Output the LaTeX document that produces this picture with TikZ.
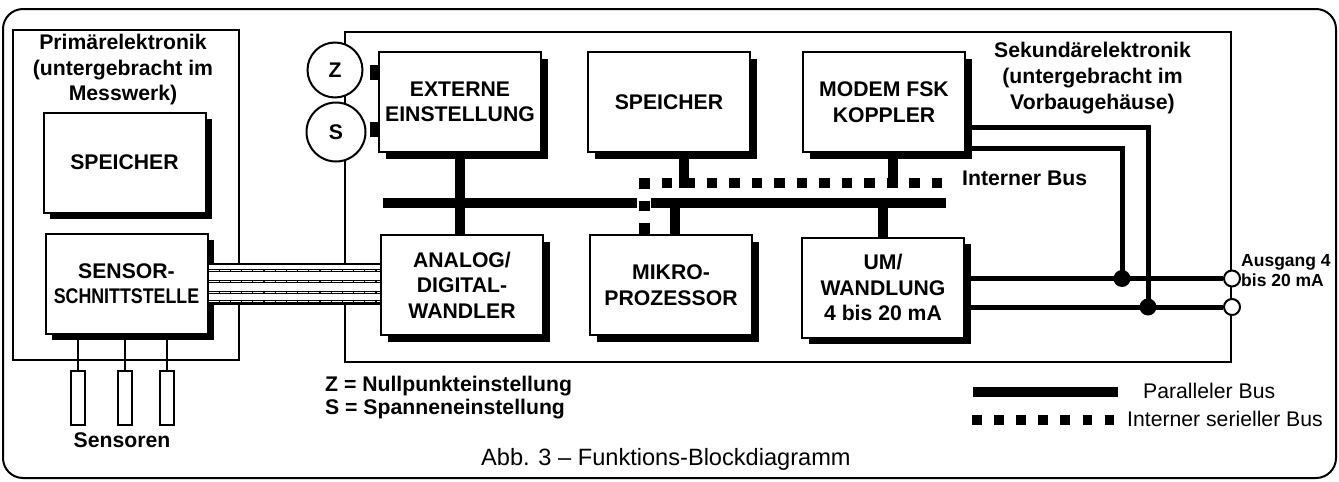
\documentclass[tikz,border=0pt]{standalone}
\usepackage{fontspec}
\setmainfont{Liberation Sans}
\usepackage{graphicx}
\usetikzlibrary{shadows}

\newcommand{\boldtext}{\bfseries\fontsize{21.2}{25.5}\selectfont}
\newcommand{\legendtext}{\fontsize{21.2}{25.5}\selectfont}

\begin{document}
\begin{tikzpicture}[x=1pt,y=-1pt,
	 block/.style={draw,line width=2pt,fill=white,minimum width=162pt,minimum height=100pt,
	   inner sep=0pt,align=center,font=\boldtext,
	   general shadow={fill=black,shadow xshift=6.5pt,shadow yshift=-6.5pt}},
	 knob/.style={circle,draw,line width=2pt,fill=white,inner sep=0pt,font=\boldtext},
	 sensorbox/.style={draw,line width=2pt,minimum width=14pt,minimum height=54pt,inner sep=0pt},
	 housing/.style={draw,line width=2pt},
	 parbus/.style={line width=10pt},
	 serbus/.style={line width=10.5pt,dash pattern=on 10.5pt off 12pt},
	 wire/.style={line width=5pt},
	 cablewire/.style={line width=3pt,postaction={draw=white,line width=1pt,dash pattern=on 10pt off 1.2pt}},
	 dot/.style={circle,fill,minimum size=17pt,inner sep=0pt},
	 pin/.style={circle,draw,line width=2pt,fill=white,minimum size=16pt,inner sep=0pt}]

	\useasboundingbox (0,0) rectangle (1339,482);

	% housings
	\draw[housing,rounded corners=20pt] (3,9) rectangle (1336,478);
	\draw[housing] (13,30) rectangle (239,360);
	\draw[housing] (345,32) rectangle (1231,362);

	\node[font=\boldtext,align=center,inner sep=0pt] (prim) at (123,70)
	  {Primärelektronik\\(untergebracht im\\Messwerk)};
	\node[font=\bfseries\fontsize{21.2}{26}\selectfont,align=center,inner sep=0pt] (sek) at (1092.5,78.5)
	  {Sekundärelektronik\\(untergebracht im\\Vorbaugehäuse)};

	% blocks
	\node[block] (speicherA) at (124.5,162.5) {SPEICHER};
	\node[block] (sensor)    at (126.5,283.5) {SENSOR-\\\scalebox{0.84}[1]{SCHNITTSTELLE}};
	\node[block] (extern)    at (460,102)     {EXTERNE\\EINSTELLUNG};
	\node[block] (speicherB) at (669,102)     {SPEICHER};
	\node[block] (modem)     at (884,102)     {MODEM FSK\\KOPPLER};
	\node[block] (adw)       at (462,285)     {ANALOG/\\DIGITAL-\\WANDLER};
	\node[block] (mikro)     at (671,285)     {MIKRO-\\PROZESSOR};
	\node[block] (um)        at (883,287.5)   {UM/\\WANDLUNG\\4 bis 20 mA};

	% Z and S
	\node[knob,minimum size=55pt] (z) at (335,70)  {Z};
	\node[knob,minimum size=59pt] (s) at (336,132) {S};
	\fill (370,65)  rectangle (378,80);
	\fill (370,122) rectangle (378,137);

	% sensors
	\foreach \i/\x in {1/78,2/125,3/167} {
	  \node[sensorbox] (sen\i) at (\x,398) {};
	  \draw[line width=2pt] (sen\i.north) -- (sen\i.north |- sensor.south);
	}
	\node[font=\boldtext,anchor=base,inner sep=0pt] (sens) at (122,447) {Sensoren};

	% buses
	\draw[parbus] (383,203) -- (946,203);
	\draw[serbus] (639,183) -- (942,183);
	\node[font=\boldtext,anchor=base west,inner sep=0pt] (ibus) at (962,185) {Interner Bus};

	\draw[parbus] (extern.south) -- (extern.south |- adw.north);
	\coordinate (sb) at (684,188);
	\draw[parbus] (sb |- speicherB.south) -- (sb);
	\coordinate (mb) at (892.5,188);
	\draw[parbus] (mb |- modem.south) -- (mb);
	\coordinate (mk) at (675,203);
	\draw[parbus] (mk) -- (mk |- mikro.north);
	\coordinate (ub) at (882.5,203);
	\draw[parbus] (ub) -- (ub |- um.north);

	\fill[white] (637,197) rectangle (651,209);
	\coordinate (sv) at (644.5,178);
	\draw[serbus] (sv) -- (sv |- mikro.north);

	% cable
	\coordinate (cabL) at (sensor.east);
	\coordinate (cabR) at (sensor.east -| adw.west);
	\fill[white] ([yshift=19.5pt]cabL) rectangle ([yshift=-20.5pt]cabR);
	\draw[line width=2pt] ([yshift=19.5pt]cabL) -- ([yshift=19.5pt]cabR);
	\draw[line width=2pt] ([yshift=-20.5pt]cabL) -- ([yshift=-20.5pt]cabR);
	\foreach \dy in {13.5,2.5,-8.5,-17.5}
	  \draw[cablewire] ([yshift=\dy pt]cabL) -- ([yshift=\dy pt]cabR);

	% outputs
	\node[dot] (j1) at (1122,278.5) {};
	\node[dot] (j2) at (1148,307) {};
	\node[pin] (out1) at (1232,278.5) {};
	\node[pin] (out2) at (1232,307) {};
	\draw[wire] ([yshift=-25.5pt]modem.east) -| (j2.center);
	\draw[wire] ([yshift=-46pt]modem.east) -| (j1.center);
	\draw[wire] (um.east |- out1) -- (out1);
	\draw[wire] (um.east |- out2) -- (out2);
	\node[font=\bfseries\fontsize{17.5}{20}\selectfont,align=left,anchor=west,inner sep=0pt] (ausg) at (1241,270.7)
	  {Ausgang 4\\bis 20 mA};

	% key
	\node[font=\boldtext,anchor=base west,inner sep=0pt] (keyz) at (325,391) {Z = Nullpunkteinstellung};
	\node[font=\boldtext,anchor=base west,inner sep=0pt] (keys) at (325,414) {S = Spanneneinstellung};

	% legend
	\draw[parbus] (973,392) -- (1118,392);
	\draw[line width=10pt,dash pattern=on 9.5pt off 12.6pt] (972,420) -- (1114,420);
	\node[font=\legendtext,anchor=base west,inner sep=0pt] (lpar) at (1143,398) {Paralleler Bus};
	\node[font=\legendtext,anchor=base west,inner sep=0pt] (lser) at (1127,426) {Interner serieller Bus};

	\node[font=\fontsize{23.6}{28}\selectfont,anchor=base west,inner sep=0pt] (capt) at (481,465)
	  {Abb. 3 – Funktions-Blockdiagramm};

\end{tikzpicture}
\end{document}
